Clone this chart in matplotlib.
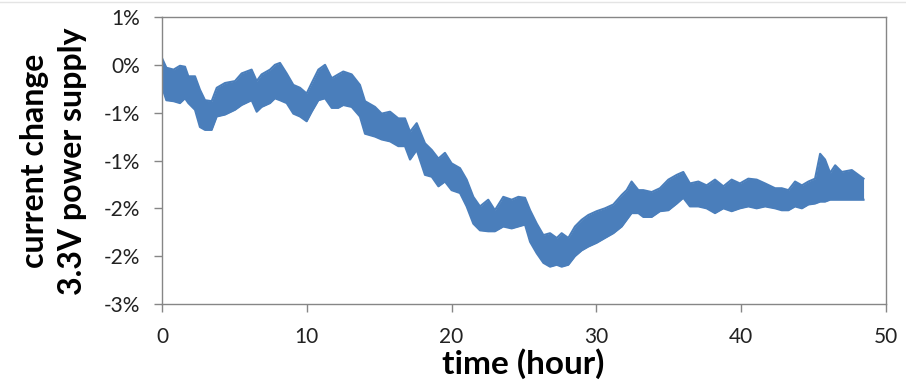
import matplotlib
matplotlib.use("Agg")
import matplotlib.pyplot as plt
from matplotlib.lines import Line2D

# ---- data (percent) ----
time_h = [0.0, 0.3, 0.8, 1.24, 1.59, 1.82, 2.28, 2.62, 2.97, 3.43, 3.78, 4.35, 5.04, 5.50,
          6.19, 6.54, 6.88, 7.46, 7.80, 8.15, 8.61, 9.07, 9.53, 9.99, 10.34, 10.80, 11.26,
          11.72, 12.17, 12.52, 13.10, 13.67, 14.02, 14.71, 15.17, 15.75, 16.32, 16.78, 17.13,
          17.59, 18.16, 18.63, 19.09, 19.54, 20.00, 20.58, 21.04, 21.50, 21.96, 22.53, 22.99,
          23.57, 24.15, 24.61, 25.07, 25.42, 25.88, 26.34, 26.80, 27.26, 27.60, 28.06, 28.52,
          28.98, 29.44, 30.02, 30.59, 31.17, 31.75, 32.09, 32.43, 32.90, 33.24, 33.82, 34.39,
          34.97, 35.55, 36.00, 36.46, 37.04, 37.61, 38.19, 38.77, 39.34, 39.91, 40.49, 41.07,
          41.65, 42.34, 42.80, 43.26, 43.72, 44.19, 44.64, 45.10, 45.45, 45.79, 46.14, 46.49,
          46.95, 47.64, 48.45]
upper_pct = [0.07, -0.03, -0.05, -0.01, -0.02, -0.12, -0.12, -0.26, -0.37, -0.38, -0.24, -0.19,
             -0.17, -0.09, -0.05, -0.17, -0.10, -0.05, 0.0, 0.02, -0.09, -0.21, -0.24, -0.30,
             -0.19, -0.05, 0.0, -0.14, -0.10, -0.07, -0.10, -0.21, -0.38, -0.44, -0.51, -0.49,
             -0.56, -0.56, -0.70, -0.61, -0.82, -0.89, -0.98, -0.92, -1.03, -1.08, -1.20, -1.38,
             -1.48, -1.41, -1.52, -1.38, -1.41, -1.38, -1.39, -1.52, -1.66, -1.78, -1.76, -1.81,
             -1.76, -1.81, -1.69, -1.62, -1.57, -1.53, -1.50, -1.46, -1.36, -1.31, -1.22, -1.31,
             -1.31, -1.33, -1.29, -1.20, -1.15, -1.12, -1.24, -1.22, -1.26, -1.20, -1.27, -1.20,
             -1.24, -1.19, -1.20, -1.24, -1.29, -1.29, -1.31, -1.22, -1.26, -1.22, -1.19, -0.93,
             -0.99, -1.13, -1.05, -1.12, -1.10, -1.19]
lower_pct = [-0.23, -0.37, -0.38, -0.40, -0.35, -0.40, -0.47, -0.65, -0.68, -0.68, -0.54, -0.52,
             -0.47, -0.42, -0.37, -0.49, -0.44, -0.40, -0.35, -0.37, -0.40, -0.51, -0.54, -0.59,
             -0.49, -0.37, -0.35, -0.45, -0.45, -0.42, -0.44, -0.54, -0.72, -0.75, -0.78, -0.80,
             -0.85, -0.85, -0.99, -0.89, -1.15, -1.17, -1.27, -1.22, -1.31, -1.34, -1.48, -1.66,
             -1.73, -1.74, -1.74, -1.69, -1.71, -1.69, -1.67, -1.85, -1.97, -2.07, -2.11, -2.09,
             -2.11, -2.09, -2.00, -1.94, -1.90, -1.86, -1.81, -1.76, -1.69, -1.62, -1.55, -1.55,
             -1.59, -1.59, -1.53, -1.52, -1.45, -1.39, -1.48, -1.48, -1.50, -1.55, -1.50, -1.53,
             -1.50, -1.48, -1.50, -1.48, -1.50, -1.52, -1.52, -1.48, -1.50, -1.46, -1.45, -1.43,
             -1.43, -1.41, -1.41, -1.41, -1.41, -1.41]

y_ticks = [0.005, 0.0, -0.005, -0.010, -0.015, -0.020, -0.025]
y_tick_labels = ["1%", "0%", "-1%", "-1%", "-2%", "-2%", "-3%"]
x_ticks = [0, 10, 20, 30, 40, 50]
y_label_lines = ["current change", "3.3V power supply"]
x_label = "time (hour)"

upper = [v / 100 for v in upper_pct]
lower = [v / 100 for v in lower_pct]

FONT = "Lato"
color = "#4a7ebb"
grey = "#868686"
W, H = 906, 385

fig = plt.figure(figsize=(W / 100, H / 100), dpi=100)
ax = fig.add_axes([162 / W, 1 - 304 / H, (886 - 162) / W, (304 - 17) / H])

ax.fill_between(time_h, lower, upper, color=color, linewidth=0)
ax.plot(time_h, upper, color=color, linewidth=1.5)
ax.plot(time_h, lower, color=color, linewidth=1.5)

ax.set_xlim(0, 50)
ax.set_ylim(-0.025, 0.005)
ax.set_xticks(x_ticks)
ax.set_xticklabels([str(v) for v in x_ticks], fontname=FONT, fontsize=15, color="#222222")
ax.set_yticks(y_ticks)
ax.set_yticklabels(y_tick_labels, fontname=FONT, fontsize=15, color="#222222")
ax.tick_params(axis="both", direction="out", length=5.5, width=1, color=grey)
ax.tick_params(axis="y", pad=10)
ax.tick_params(axis="x", pad=11)
for s in ax.spines.values():
    s.set_color(grey)
    s.set_linewidth(1)

fig.text(523 / W, 1 - 364 / H, x_label, fontname=FONT, fontsize=24, fontweight="bold",
         ha="center", va="center")
fig.text(35 / W, 1 - 161 / H, y_label_lines[0], fontname=FONT, fontsize=23, fontweight="bold",
         ha="center", va="center", rotation=90)
fig.text(73 / W, 1 - 161 / H, y_label_lines[1], fontname=FONT, fontsize=23, fontweight="bold",
         ha="center", va="center", rotation=90)

fig.add_artist(Line2D([0, 1], [1 - 2 / H, 1 - 2 / H], color="#e4e4e4", linewidth=1))

fig.savefig("out.png", dpi=100)
